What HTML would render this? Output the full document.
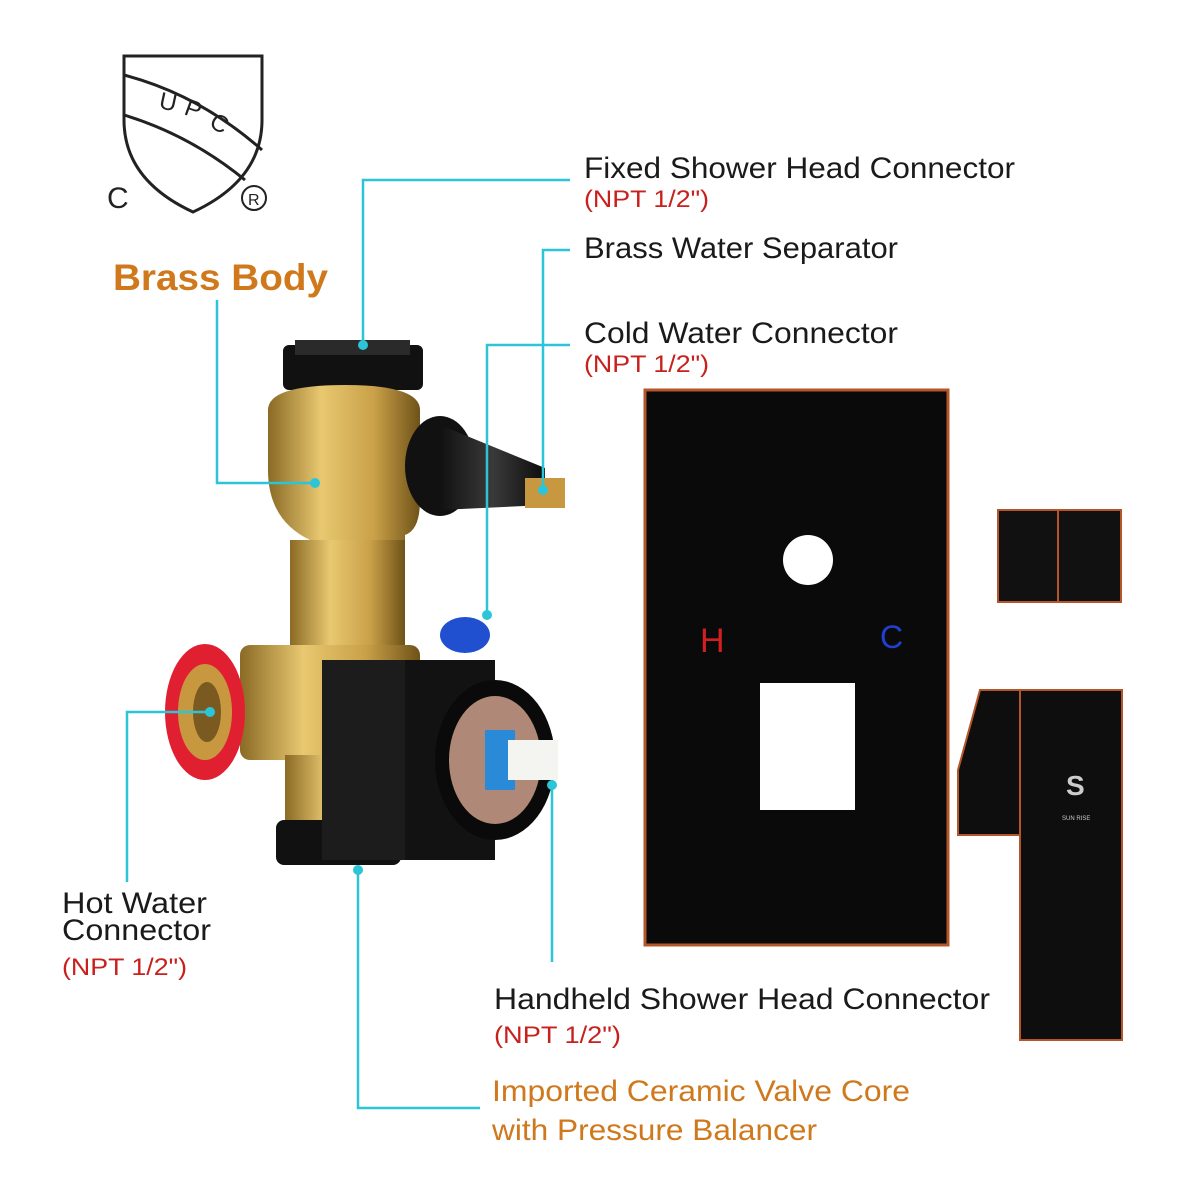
<!DOCTYPE html>
<html><head><meta charset="utf-8"><style>
html,body{margin:0;padding:0;background:#fff;}
svg{display:block;}
text{font-family:"Liberation Sans","DejaVu Sans",sans-serif;}
</style></head><body>
<svg width="1184" height="1200" viewBox="0 0 1184 1200" xmlns="http://www.w3.org/2000/svg">
<defs>
<linearGradient id="brass" x1="0" x2="1" y1="0" y2="0">
<stop offset="0" stop-color="#8a6a25"/><stop offset="0.35" stop-color="#e8c870"/><stop offset="0.7" stop-color="#c9a048"/><stop offset="1" stop-color="#6e5218"/></linearGradient>
<linearGradient id="blk" x1="0" x2="1"><stop offset="0" stop-color="#111"/><stop offset="0.5" stop-color="#3a3a3a"/><stop offset="1" stop-color="#0c0c0c"/></linearGradient>
</defs>
<path d="M124 56 L262 56 L262 120 Q262 180 193 212 Q124 180 124 120 Z" fill="none" stroke="#222" stroke-width="3"/>
<path d="M124 75 Q200 95 262 150" fill="none" stroke="#222" stroke-width="3"/>
<path d="M124 115 Q190 135 245 180" fill="none" stroke="#222" stroke-width="3"/>
<text x="158" y="108" font-size="24" fill="#222" transform="rotate(12 158 108)">U</text>
<text x="183" y="114" font-size="24" fill="#222" transform="rotate(20 183 114)">P</text>
<text x="208" y="126" font-size="24" fill="#222" transform="rotate(30 208 126)">C</text>
<text x="107" y="208" font-size="30" fill="#222">C</text>
<circle cx="254" cy="198" r="12" fill="none" stroke="#222" stroke-width="2"/>
<text x="248" y="205" font-size="16" fill="#222">R</text>
<text x="113" y="290" font-size="37" font-weight="bold" fill="#d0781c" textLength="215" lengthAdjust="spacingAndGlyphs">Brass Body</text>
<rect x="283" y="345" width="140" height="45" rx="6" fill="#111"/>
<rect x="295" y="340" width="115" height="15" fill="#2a2a2a"/>
<path d="M268 410 Q268 385 345 385 Q420 385 420 410 L420 500 Q420 530 405 535 L405 650 L310 650 L310 540 Q268 520 268 470 Z" fill="url(#brass)"/>
<rect x="290" y="540" width="115" height="115" fill="url(#brass)"/>
<rect x="240" y="645" width="180" height="115" rx="10" fill="url(#brass)"/>
<rect x="285" y="755" width="120" height="70" fill="url(#brass)"/>
<rect x="276" y="820" width="125" height="45" rx="8" fill="#111"/>
<ellipse cx="205" cy="712" rx="40" ry="68" fill="#e02030"/>
<ellipse cx="205" cy="712" rx="27" ry="48" fill="#c89840"/>
<ellipse cx="207" cy="712" rx="14" ry="30" fill="#7a5a20"/>
<ellipse cx="440" cy="466" rx="35" ry="50" fill="#111"/>
<path d="M440 425 L545 468 L545 505 L440 510 Z" fill="url(#blk)"/>
<rect x="525" y="478" width="40" height="30" fill="#c89840"/>
<ellipse cx="465" cy="635" rx="25" ry="18" fill="#2050d0"/>
<path d="M322 660 L495 660 L495 860 L322 860 Z" fill="#121212"/>
<path d="M322 660 L405 660 L405 860 L322 860 Z" fill="#1c1c1c"/>
<ellipse cx="495" cy="760" rx="60" ry="80" fill="#0a0a0a"/>
<ellipse cx="495" cy="760" rx="46" ry="64" fill="#b08878"/>
<rect x="485" y="730" width="30" height="60" fill="#2a8ad8"/>
<rect x="508" y="740" width="50" height="40" fill="#f4f4f0"/>
<rect x="645" y="390" width="303" height="555" fill="#0a0a0a" stroke="#b5562a" stroke-width="3"/>
<circle cx="808" cy="560" r="25" fill="#fff"/>
<rect x="760" y="683" width="95" height="127" fill="#fff"/>
<text x="700" y="652" font-size="34" fill="#d02020" font-family="Liberation Serif,serif">H</text>
<text x="880" y="648" font-size="32" fill="#2040d0" font-family="Liberation Serif,serif">C</text>
<rect x="998" y="510" width="123" height="92" fill="#111" stroke="#b5562a" stroke-width="2"/>
<line x1="1058" y1="510" x2="1058" y2="602" stroke="#b5562a" stroke-width="2"/>
<path d="M980 690 L1122 690 L1122 1040 L1020 1040 L1020 835 L958 835 L958 770 Z" fill="#0e0e0e" stroke="#b5562a" stroke-width="2"/>
<line x1="1020" y1="690" x2="1020" y2="1040" stroke="#b5562a" stroke-width="2"/>
<text x="1066" y="795" font-size="28" font-weight="bold" fill="#ccc">S</text>
<text x="1062" y="820" font-size="6" fill="#ccc">SUN RISE</text>
<g stroke="#2cc5d8" stroke-width="2.5" fill="none">
<polyline points="363,345 363,180 570,180"/>
<polyline points="543,490 543,250 570,250"/>
<polyline points="487,615 487,345 570,345"/>
<polyline points="217,300 217,483 315,483"/>
<polyline points="210,712 127,712 127,882"/>
<polyline points="552,785 552,962"/>
<polyline points="358,870 358,1108 480,1108"/>
</g>
<g fill="#2cc5d8"><circle cx="363" cy="345" r="5"/><circle cx="543" cy="490" r="5"/><circle cx="487" cy="615" r="5"/><circle cx="315" cy="483" r="5"/><circle cx="210" cy="712" r="5"/><circle cx="552" cy="785" r="5"/><circle cx="358" cy="870" r="5"/></g>
<g font-size="30" fill="#1a1a1a" lengthAdjust="spacingAndGlyphs">
<text x="584" y="178" textLength="431" lengthAdjust="spacingAndGlyphs">Fixed Shower Head Connector</text>
<text x="584" y="258" textLength="314" lengthAdjust="spacingAndGlyphs">Brass Water Separator</text>
<text x="584" y="343" textLength="314" lengthAdjust="spacingAndGlyphs">Cold Water Connector</text>
<text x="62" y="913" textLength="145" lengthAdjust="spacingAndGlyphs">Hot Water</text>
<text x="62" y="940" textLength="149" lengthAdjust="spacingAndGlyphs">Connector</text>
<text x="494" y="1009" textLength="496" lengthAdjust="spacingAndGlyphs">Handheld Shower Head Connector</text>
</g>
<g font-size="24" fill="#c8201c">
<text x="584" y="207" textLength="125" lengthAdjust="spacingAndGlyphs">(NPT 1/2")</text>
<text x="584" y="372" textLength="125" lengthAdjust="spacingAndGlyphs">(NPT 1/2")</text>
<text x="62" y="975" textLength="125" lengthAdjust="spacingAndGlyphs">(NPT 1/2")</text>
<text x="494" y="1043" textLength="127" lengthAdjust="spacingAndGlyphs">(NPT 1/2")</text>
</g>
<g font-size="30" fill="#d0781c">
<text x="492" y="1101" textLength="418" lengthAdjust="spacingAndGlyphs">Imported Ceramic Valve Core</text>
<text x="492" y="1140" textLength="325" lengthAdjust="spacingAndGlyphs">with Pressure Balancer</text>
</g>
</svg>
</body></html>
